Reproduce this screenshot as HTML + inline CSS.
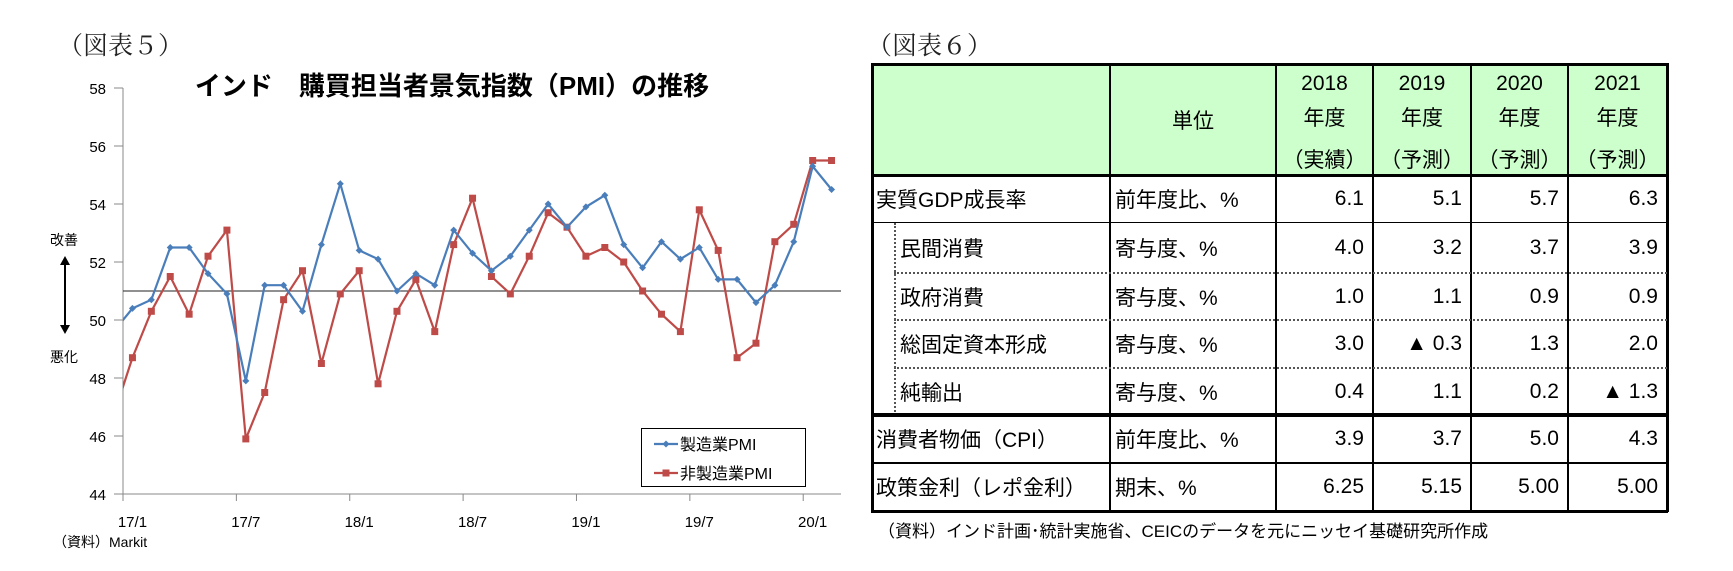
<!DOCTYPE html>
<html><head><meta charset="utf-8">
<style>
body{margin:0;background:#fff;}
#root{position:relative;width:1733px;height:571px;overflow:hidden;background:#fff;font-family:"Liberation Sans","Noto Sans CJK JP",sans-serif;}
.abs{position:absolute;white-space:nowrap;}
.cell{position:absolute;font-size:21px;color:#000;display:flex;align-items:center;white-space:nowrap;}
.num{justify-content:flex-end;padding-right:9px;box-sizing:border-box;}
</style></head><body>
<div id="root">
<div class="abs" style="left:58px;top:26px;font-size:25px;font-family:'Liberation Serif','Noto Serif CJK SC',serif;color:#222;">（図表５）</div>
<svg id="chart" width="870" height="571" style="position:absolute;left:0;top:0;" font-family="Liberation Sans, Noto Sans CJK JP, sans-serif"></svg>

<div class="abs" style="left:867px;top:26px;font-size:25px;font-family:'Liberation Serif','Noto Serif CJK SC',serif;color:#222;">（図表６）</div>
<div id="table" style="position:absolute;left:0;top:0;width:1733px;height:571px;"></div>
<div class="abs" style="left:878px;top:517px;font-size:17px;">（資料）インド計画･統計実施省、CEICのデータを元にニッセイ基礎研究所作成</div>
</div>
<script>
const categories=["16/12","17/1","17/2","17/3","17/4","17/5","17/6","17/7","17/8","17/9","17/10","17/11","17/12","18/1","18/2","18/3","18/4","18/5","18/6","18/7","18/8","18/9","18/10","18/11","18/12","19/1","19/2","19/3","19/4","19/5","19/6","19/7","19/8","19/9","19/10","19/11","19/12","20/1","20/2"];
const manufacturing=[49.6,50.4,50.7,52.5,52.5,51.6,50.9,47.9,51.2,51.2,50.3,52.6,54.7,52.4,52.1,51.0,51.6,51.2,53.1,52.3,51.7,52.2,53.1,54.0,53.2,53.9,54.3,52.6,51.8,52.7,52.1,52.5,51.4,51.4,50.6,51.2,52.7,55.3,54.5];
const services=[46.7,48.7,50.3,51.5,50.2,52.2,53.1,45.9,47.5,50.7,51.7,48.5,50.9,51.7,47.8,50.3,51.4,49.6,52.6,54.2,51.5,50.9,52.2,53.7,53.2,52.2,52.5,52.0,51.0,50.2,49.6,53.8,52.4,48.7,49.2,52.7,53.3,55.5,55.5];
const yTicks=[44,46,48,50,52,54,56,58];
const xTickLabels=["17/1","17/7","18/1","18/7","19/1","19/7","20/1"];
const refLevel=51;

const NS="http://www.w3.org/2000/svg";
const svg=document.getElementById('chart');
const L=123,R=841,T=88,B=494,yMin=44,yMax=58;
const nVis=categories.length-1;
const bw=(R-L)/nVis;
const xs=i=>L+(i-1+0.5)*bw;
const ys=v=>B-(v-yMin)/(yMax-yMin)*(B-T);
function mk(tag,attrs,parent){const e=document.createElementNS(NS,tag);for(const k in attrs)e.setAttribute(k,attrs[k]);(parent||svg).appendChild(e);return e;}

const defs=mk('defs',{});
const cp=mk('clipPath',{id:'plotclip'},defs);
mk('rect',{x:L,y:0,width:R-L+10,height:571},cp);

const title=mk('text',{x:452,y:95,'text-anchor':'middle','font-size':'26','font-weight':'bold'});


title.textContent='インド　購買担当者景気指数（PMI）の推移';

const yAxis=mk('line',{x1:L,y1:T,x2:L,y2:B,stroke:'#888','stroke-width':1});


const xAxis=mk('line',{x1:L,y1:B,x2:R,y2:B,stroke:'#888','stroke-width':1});



yTicks.forEach(v=>{
  mk('line',{x1:L-9,y1:ys(v),x2:L,y2:ys(v),stroke:'#888'});
  const t=mk('text',{x:106,y:ys(v)+6,'text-anchor':'end','font-size':'15'});
  
  
  t.textContent=v;
});
for(let k=0;k<=nVis;k+=6){
  const x=L+k*bw;
  mk('line',{x1:x,y1:B,x2:x,y2:B+7,stroke:'#888'});
}
xTickLabels.forEach((lab,j)=>{
  const i=categories.indexOf(lab);
  const t=mk('text',{x:xs(i),y:527,'text-anchor':'middle','font-size':'15'});
  
  
  t.textContent=lab;
});
const ref=mk('line',{x1:L,y1:ys(refLevel),x2:R,y2:ys(refLevel),stroke:'#222','stroke-width':1});



function series(vals,color,name,marker){
  const g=mk('g',{'clip-path':'url(#plotclip)'});
  
  
  mk('polyline',{points:vals.map((v,i)=>xs(i)+','+ys(v)).join(' '),fill:'none',stroke:color,'stroke-width':2.2},g);
  vals.forEach((v,i)=>{
    const x=xs(i),y=ys(v);let m;
    if(marker==='d')m=mk('polygon',{points:`${x},${y-3.5} ${x+3.5},${y} ${x},${y+3.5} ${x-3.5},${y}`,fill:color},g);
    else m=mk('rect',{x:x-3.5,y:y-3.5,width:7,height:7,fill:color},g);
    
    
  });
}
series(services,'#be4b48','services-pmi-series','s');
series(manufacturing,'#4a7ebb','manufacturing-pmi-series','d');

const up=mk('text',{x:64,y:245,'text-anchor':'middle','font-size':'14'});


up.textContent='改善';
const dn=mk('text',{x:64,y:362,'text-anchor':'middle','font-size':'14'});


dn.textContent='悪化';
const arr=mk('g',{});


mk('line',{x1:65,y1:262,x2:65,y2:328,stroke:'#000','stroke-width':2},arr);
mk('polygon',{points:'60,265 70,265 65,256',fill:'#000'},arr);
mk('polygon',{points:'60,325 70,325 65,334',fill:'#000'},arr);

const lg=mk('g',{});


mk('rect',{x:641.5,y:428.5,width:164,height:58,fill:'#fff',stroke:'#000','stroke-width':1},lg);
const e1=mk('g',{},lg);


mk('line',{x1:654,y1:444,x2:678,y2:444,stroke:'#4a7ebb','stroke-width':2.2},e1);
mk('polygon',{points:'666,440.5 669.5,444 666,447.5 662.5,444',fill:'#4a7ebb'},e1);
const t1=mk('text',{x:680,y:450,'font-size':'16'},e1);t1.textContent='製造業PMI';
const e2=mk('g',{},lg);


mk('line',{x1:654,y1:473,x2:678,y2:473,stroke:'#be4b48','stroke-width':2.2},e2);
mk('rect',{x:662.5,y:469.5,width:7,height:7,fill:'#be4b48'},e2);
const t2=mk('text',{x:680,y:479,'font-size':'16'},e2);t2.textContent='非製造業PMI';

const src=mk('text',{x:53,y:547,'font-size':'14'});


src.textContent='（資料）Markit';

// ---------- table ----------
const tb=document.getElementById('table');
const colX=[872,1110,1276,1373,1471,1568,1667];
const rowY=[64,175,223,273,320,368,415,463,511];
function div(style,name,html,cls){
  const d=document.createElement('div');
  d.className=cls||'abs';
  d.style.cssText=style;
  
  
  d.innerHTML=html||'';
  tb.appendChild(d);return d;
}
div(`left:${colX[0]}px;top:${rowY[0]}px;width:${colX[6]-colX[0]}px;height:${rowY[1]-rowY[0]}px;background:#ccffcc;`,'table-header-bg');
const heads=[['2018','年度','（実績）'],['2019','年度','（予測）'],['2020','年度','（予測）'],['2021','年度','（予測）']];
div(`left:${colX[1]}px;top:${rowY[0]}px;width:${colX[2]-colX[1]}px;height:111px;justify-content:center;`,'unit-header','単位','cell');
heads.forEach((h,j)=>{
  const w=colX[j+3]-colX[j+2];
  div(`left:${colX[j+2]}px;top:${rowY[0]+8}px;width:${w}px;text-align:center;font-size:21px;`,'year-header',h[0]);
  div(`left:${colX[j+2]}px;top:${rowY[0]+38}px;width:${w}px;text-align:center;font-size:21px;`,'year-header',h[1]);
  div(`left:${colX[j+2]}px;top:${rowY[0]+80}px;width:${w}px;text-align:center;font-size:21px;`,'year-header',h[2]);
});
const rows=[
 ['実質GDP成長率','前年度比、%',['6.1','5.1','5.7','6.3'],0],
 ['民間消費','寄与度、%',['4.0','3.2','3.7','3.9'],1],
 ['政府消費','寄与度、%',['1.0','1.1','0.9','0.9'],1],
 ['総固定資本形成','寄与度、%',['3.0','▲ 0.3','1.3','2.0'],1],
 ['純輸出','寄与度、%',['0.4','1.1','0.2','▲ 1.3'],1],
 ['消費者物価（CPI）','前年度比、%',['3.9','3.7','5.0','4.3'],0],
 ['政策金利（レポ金利）','期末、%',['6.25','5.15','5.00','5.00'],0]
];
rows.forEach((r,i)=>{
  const y=rowY[i+1],h=rowY[i+2]-y;
  div(`left:${colX[0]+(r[3]?28:4)}px;top:${y}px;height:${h}px;`,'row-label',r[0],'cell');
  div(`left:${colX[1]+5}px;top:${y}px;height:${h}px;`,'row-unit',r[1],'cell');
  r[2].forEach((v,j)=>div(`left:${colX[j+2]}px;top:${y}px;width:${colX[j+3]-colX[j+2]}px;height:${h}px;`,'value-cell',v,'cell num'));
});
const line=(l,t,w,h,bg,name)=>div(`left:${l}px;top:${t}px;width:${w}px;height:${h}px;background:${bg};`,name);
line(colX[0]-1,rowY[0]-1,colX[6]-colX[0]+2,2.5,'#000','table-border');
line(colX[0]-1,rowY[8]-1,colX[6]-colX[0]+2,2.5,'#000','table-border');
line(colX[0]-1,rowY[0]-1,2.5,rowY[8]-rowY[0]+2,'#000','table-border');
line(colX[6]-1,rowY[0]-1,2.5,rowY[8]-rowY[0]+2,'#000','table-border');
for(let k=1;k<6;k++)line(colX[k]-1,rowY[0],2,rowY[8]-rowY[0],'#000','column-line');
line(colX[0],rowY[1]-1,colX[6]-colX[0],2.5,'#000','row-line');
line(colX[0],rowY[2]-1,colX[6]-colX[0],1,'#000','row-line');
for(let k=3;k<=5;k++)div(`left:894px;top:${rowY[k]-1}px;width:${colX[6]-894}px;height:0;border-top:2px dotted #555;`,'dotted-row-line');
div(`left:894px;top:${rowY[2]}px;width:0;height:${rowY[6]-rowY[2]}px;border-left:2px dotted #555;`,'dotted-indent-line');
line(colX[0],rowY[6]-2,colX[6]-colX[0],3.5,'#000','row-line-thick');
line(colX[0],rowY[7]-1,colX[6]-colX[0],2,'#000','row-line');
</script>
</body></html>
